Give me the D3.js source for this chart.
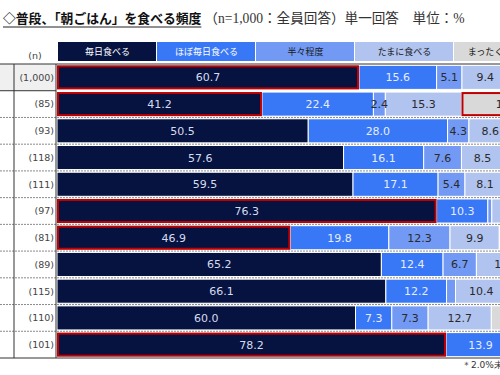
<!DOCTYPE html>
<html lang="ja">
<head>
<meta charset="UTF-8">
<title>朝ごはん</title>
<style>
  body { margin: 0; background: #fff; }
</style>
</head>
<body>
<script src="https://cdn.jsdelivr.net/npm/d3@7"></script>
<script>
const width = 500, height = 375;

const series = ["毎日食べる", "ほぼ毎日食べる", "半々程度", "たまに食べる", "まったく食べない"];
const nLabels = ["(1,000)", "(85)", "(93)", "(118)", "(111)", "(97)", "(81)", "(89)", "(115)", "(110)", "(101)"];
const everyDay   = [60.7, 41.2, 50.5, 57.6, 59.5, 76.3, 46.9, 65.2, 66.1, 60.0, 78.2];
const almost     = [15.6, 22.4, 28.0, 16.1, 17.1, 10.3, 19.8, 12.4, 12.2, 7.3, 13.9];
const half       = [5.1, 2.4, 4.3, 7.6, 5.4, 0.8, 12.3, 6.7, 1.8, 7.3, 1.9];
const sometimes  = [9.4, 15.3, 8.6, 8.5, 8.1, 8.0, 9.9, 12.1, 10.4, 12.7, 4.0];
const never      = [9.2, 18.7, 8.6, 10.2, 9.9, 4.6, 11.1, 3.6, 9.5, 12.7, 2.0];
// 赤枠 [行, 系列]
const highlights = [[0, 0], [1, 0], [1, 4], [5, 0], [6, 0], [10, 0]];

const colors = ["#06123f", "#3877f5", "#7299f3", "#b1c3ef", "#d9d9d9"];
const textColors = ["#d6dcef", "#e6ecfb", "#2a2a2a", "#2a2a2a", "#2a2a2a"];
const headColors = ["#ffffff", "#ffffff", "#1a1a1a", "#1a1a1a", "#1a1a1a"];

const values = [everyDay, almost, half, sometimes, never];
const rows = nLabels.map((n, i) => {
  let acc = 0;
  return {n, i, segs: values.map((v, k) => {
    const s = {k, v: v[i], x0: acc, x1: acc + v[i]};
    acc += v[i];
    return s;
  })};
});

const svg = d3.select("body").append("svg")
  .attr("width", width).attr("height", height)
  .style("font-family", "'DejaVu Sans', sans-serif");

const x = d3.scaleLinear().domain([0, 100]).range([57, 554.5]);
const y = d3.scaleBand().domain(d3.range(nLabels.length)).range([64, 358]).paddingInner(0.1).paddingOuter(0.05);
const rowY = d3.scaleLinear().domain([0, nLabels.length]).range([64, 358]);
const legendX = d3.scaleBand().domain(series).range([58, 553]);

// title
const title = svg.append("text").attr("x", 3).attr("y", 23);
const bold = title.append("tspan")
  .attr("font-family", "'Noto Sans CJK JP', sans-serif")
  .attr("font-weight", "bold").attr("font-size", 12.8).attr("fill", "#111")
  .text("◇普段、「朝ごはん」を食べる頻度");
title.append("tspan")
  .attr("dx", 3)
  .attr("font-family", "'Liberation Serif', 'Noto Sans CJK JP', serif")
  .attr("font-size", 13.6).attr("fill", "#333")
  .text("（n=1,000：全員回答）単一回答　単位：%");
const boldLen = bold.node().getComputedTextLength();
svg.append("line").attr("x1", 3).attr("x2", 3 + boldLen).attr("y1", 27).attr("y2", 27)
  .attr("stroke", "#222").attr("stroke-width", 1);

// header legend
const head = svg.append("g").selectAll("g").data(series).join("g");
head.append("rect")
  .attr("x", d => legendX(d)).attr("y", 42)
  .attr("width", legendX.bandwidth() - 1).attr("height", 19)
  .attr("fill", (d, i) => colors[i]);
head.append("text")
  .attr("x", d => legendX(d) + legendX.bandwidth() / 2).attr("y", 52)
  .attr("dy", "0.35em").attr("text-anchor", "middle")
  .attr("font-family", "'Noto Sans CJK JP', sans-serif").attr("font-size", 9)
  .attr("fill", (d, i) => headColors[i])
  .text(d => d);

svg.append("text").attr("x", 35).attr("y", 59).attr("text-anchor", "middle")
  .attr("font-size", 9.5).attr("fill", "#444").text("(n)");

// first row shading
svg.append("rect").attr("x", 0).attr("y", rowY(0)).attr("width", 56)
  .attr("height", rowY(1) - rowY(0)).attr("fill", "#f0f0f0");

// bars
const rowG = svg.append("g").selectAll("g").data(rows).join("g");
rowG.selectAll("rect").data(d => d.segs.map(s => ({...s, row: d.i}))).join("rect")
  .attr("x", s => x(s.x0)).attr("y", s => y(s.row))
  .attr("width", s => Math.max(0, x(s.x1) - x(s.x0))).attr("height", y.bandwidth())
  .attr("fill", s => colors[s.k])
  .attr("stroke", "#fff").attr("stroke-width", 1);

rowG.selectAll("text.v").data(d => d.segs.filter(s => s.v >= 2).map(s => ({...s, row: d.i}))).join("text")
  .attr("class", "v")
  .attr("x", s => (x(s.x0) + x(s.x1)) / 2).attr("y", s => y(s.row) + y.bandwidth() / 2)
  .attr("dy", "0.36em").attr("text-anchor", "middle")
  .attr("font-size", 11).attr("fill", s => textColors[s.k])
  .text(s => s.v.toFixed(1));

// highlights
svg.append("g").selectAll("rect").data(highlights).join("rect")
  .attr("x", d => x(rows[d[0]].segs[d[1]].x0) + 1)
  .attr("y", d => y(d[0]) + 1)
  .attr("width", d => x(rows[d[0]].segs[d[1]].x1) - x(rows[d[0]].segs[d[1]].x0) - 2)
  .attr("height", y.bandwidth() - 2)
  .attr("fill", "none").attr("stroke", "#c00000").attr("stroke-width", 2);

// n labels
svg.append("g").selectAll("text").data(nLabels).join("text")
  .attr("x", 54).attr("y", (d, i) => (rowY(i) + rowY(i + 1)) / 2)
  .attr("dy", "0.35em").attr("text-anchor", "end")
  .attr("font-size", 9.5).attr("fill", "#444")
  .text(d => d);

// grid lines
svg.append("g").selectAll("line").data(d3.range(2, nLabels.length)).join("line")
  .attr("x1", 0).attr("x2", width)
  .attr("y1", d => rowY(d)).attr("y2", d => rowY(d))
  .attr("stroke", "#8a8a8a").attr("stroke-width", 1).attr("stroke-dasharray", "2,1");
svg.append("line").attr("x1", 0).attr("x2", 56).attr("y1", rowY(1)).attr("y2", rowY(1))
  .attr("stroke", "#333");
svg.append("g").selectAll("line").data([0, nLabels.length]).join("line")
  .attr("x1", 0).attr("x2", width)
  .attr("y1", d => rowY(d)).attr("y2", d => rowY(d))
  .attr("stroke", "#333").attr("stroke-width", 1);
svg.append("g").selectAll("line").data([14, 56]).join("line")
  .attr("x1", d => d).attr("x2", d => d)
  .attr("y1", rowY(0)).attr("y2", rowY(nLabels.length))
  .attr("stroke", "#333").attr("stroke-width", 1);

// note
svg.append("text").attr("x", 462).attr("y", 368)
  .attr("font-size", 9).attr("fill", "#333")
  .text("＊2.0%未満の数値は非表示");
</script>
</body>
</html>
